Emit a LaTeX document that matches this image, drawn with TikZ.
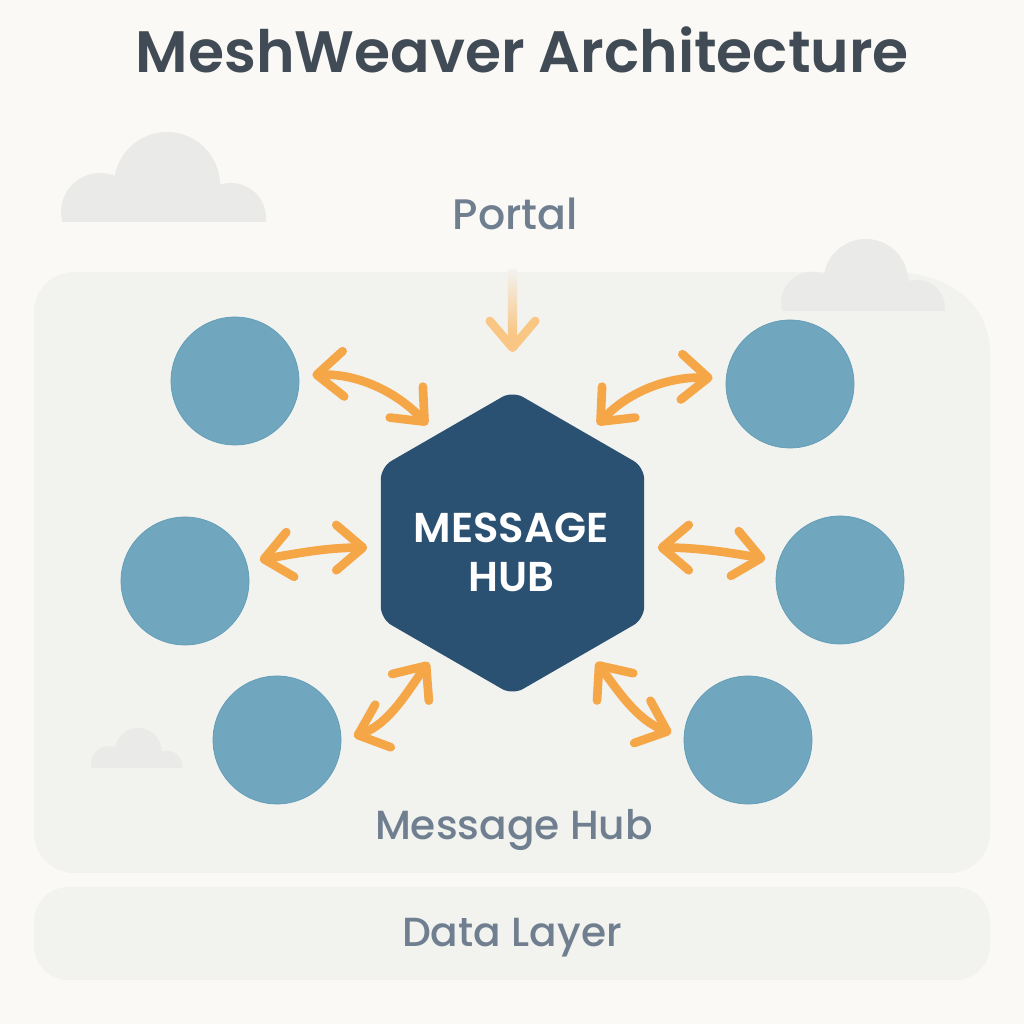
\documentclass[tikz,border=0pt]{standalone}
\usepackage{fontspec}
\setmainfont{Poppins Medium}
\newfontfamily\titlefont{Poppins SemiBold}
\usepackage[dvipsnames]{xcolor}
\usetikzlibrary{arrows.meta,shapes.geometric}
\definecolor{paper}{HTML}{FAF9F6}
\definecolor{panelgray}{HTML}{F2F2EF}
\definecolor{cloudgray}{HTML}{EAEAE8}
\definecolor{inkgray}{HTML}{414B55}
\definecolor{labelgray}{HTML}{707F8F}
\definecolor{peerblue}{HTML}{70A6BE}
\definecolor{peeredge}{HTML}{5F9BB6}
\definecolor{hubblue}{HTML}{2A5072}
\definecolor{linkorange}{HTML}{F5A647}
\definecolor{fadeorange}{HTML}{F9C684}
\tikzset{
    barb/.tip={Straight Barb[round,length=20pt,width=34pt]},
    pics/skycloud/.style={code={
        \begin{scope}
            \clip (0,0) rectangle (205,100);
            \fill[cloudgray] (106,37) circle (53);
            \fill[cloudgray] (39,10) circle (39);
            \fill[cloudgray] (170,4) circle (35);
            \fill[cloudgray] (30,0) rectangle (180,20);
        \end{scope}
    }}
}

\begin{document}
\begin{tikzpicture}[x=0.75pt,y=0.75pt,
        peer node/.style={circle,fill=peerblue,draw=peeredge,line width=0.5pt,minimum size=96pt,inner sep=0pt},
        hub node/.style={regular polygon,regular polygon sides=6,shape border rotate=30,fill=hubblue,rounded corners=9pt,minimum size=228pt,inner sep=0pt},
        band label/.style={text=labelgray,font=\fontsize{30.5}{36}\selectfont},
        link/.style={draw=linkorange,line width=6.5pt,line cap=round,barb-barb,shorten >=10pt,shorten <=10pt}]
    \useasboundingbox (0,0) rectangle (1024,1024);
    \fill[paper] (0,0) rectangle (1024,1024);

    % panels
    \fill[panelgray] (500,752) -- (895,752) .. controls (950,750) and (990,720) .. (990,670) [rounded corners=30pt] -- (990,151) -- (34,151) -- (34,752) -- cycle;
    \fill[panelgray,rounded corners=26pt] (34,44) rectangle (990,137);

    % clouds
    \pic at (61,802) {skycloud};
    \pic[scale=0.8] at (781,713) {skycloud};
    \pic[scale=0.445] at (91,256) {skycloud};

    \node[inkgray,font=\titlefont\fontsize{43.8}{52}\selectfont] (title) at (522.5,974) {MeshWeaver Architecture};
    \node[band label,font=\fontsize{32}{36}\selectfont] (portal) at (515.5,810) {Portal};
    \node[band label] (meshlabel) at (514,194) {Message Hub};
    \node[band label] (datalabel) at (512,86) {Data Layer};

    \node[hub node] (hub) at (512.5,481) {};
    \node[text=white,align=center,font=\titlefont\fontsize{31.3}{36.7}\selectfont] (hublabel) at (511,472) {MESSAGE\\HUB};
    \node[peer node] (p1) at (235,643) {};
    \node[peer node] (p2) at (790,640) {};
    \node[peer node] (p3) at (185,443) {};
    \node[peer node] (p4) at (840,444) {};
    \node[peer node] (p5) at (277,284) {};
    \node[peer node] (p6) at (748,284) {};

    \path[every edge/.style={link}]
        (p1.5) edge[out=2,in=133] (hub.125)
        (p2.175) edge[out=178,in=47] (hub.55)
        (p3.17) edge[out=10,in=180] (hub.182)
        (p4.163) edge[out=170,in=0] (hub.358)
        (p5.359) edge[out=20,in=234] (hub.235)
        (p6.178) edge[out=159,in=307] (hub.305);

    \draw[fadeorange,line width=6.5pt,line cap=round,-barb,shorten <=30pt,shorten >=29pt] (portal.south -| hub.north) -- (hub.north);
    \shade[top color=panelgray,bottom color=fadeorange] (507.8,754) rectangle (517.2,690);
\end{tikzpicture}
\end{document}
